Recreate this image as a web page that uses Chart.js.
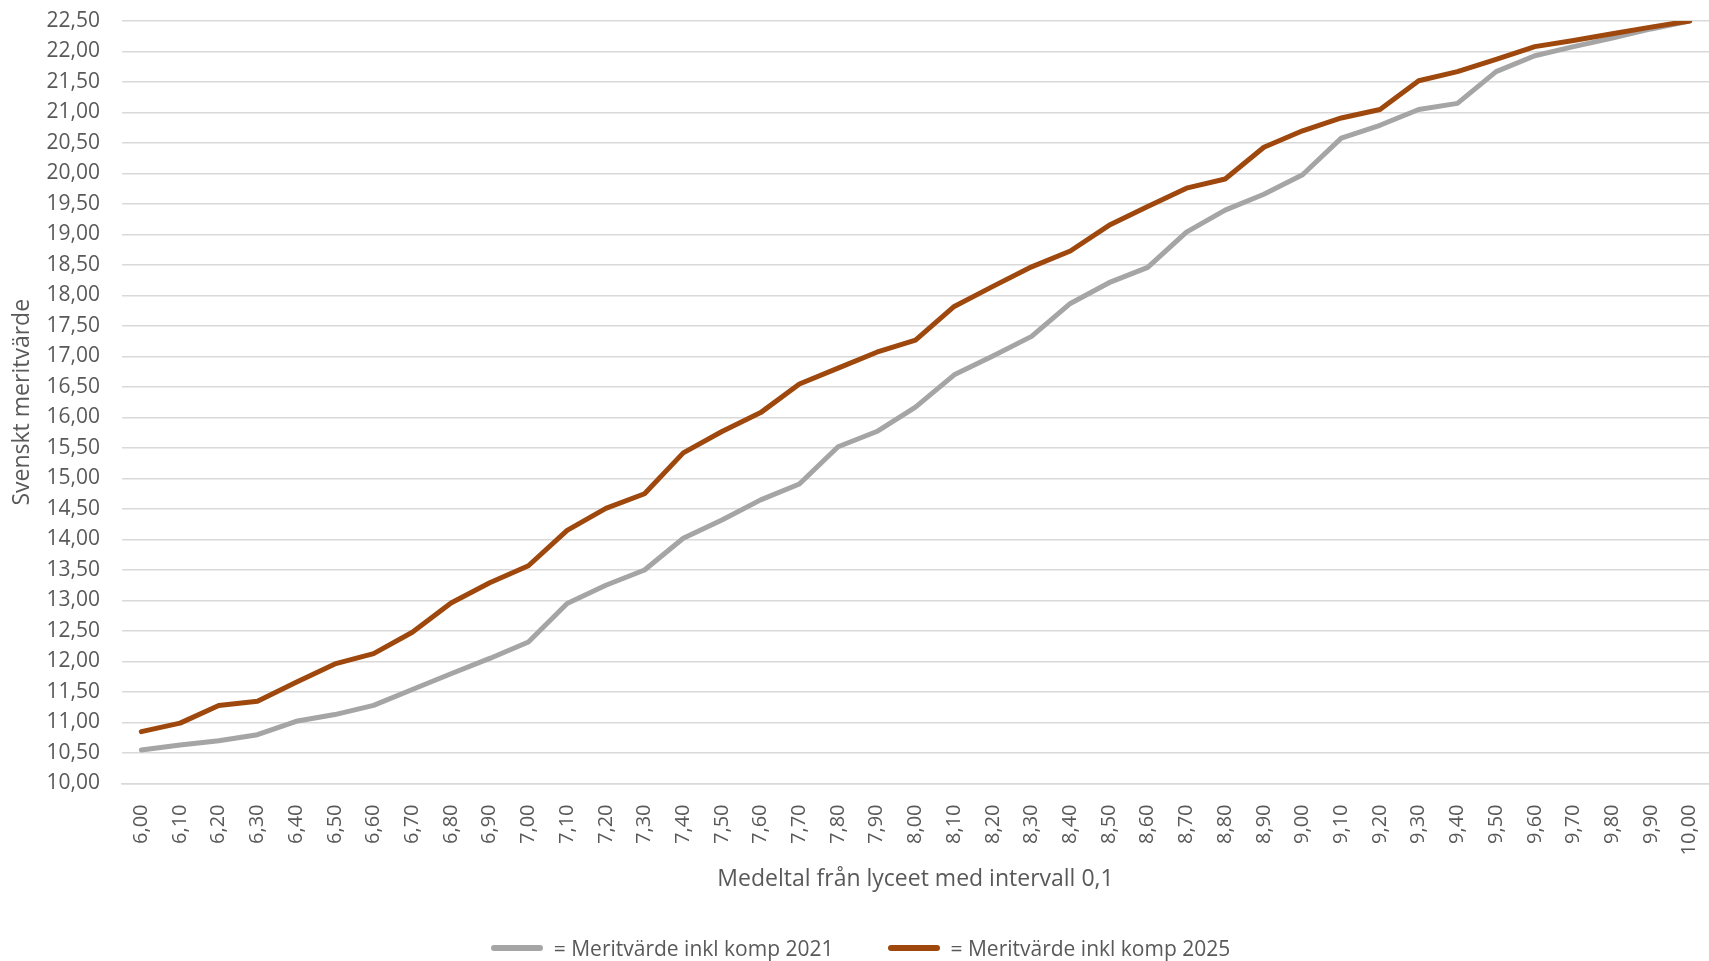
<!DOCTYPE html>
<html lang="sv">
<head>
<meta charset="utf-8">
<title>Meritvärde</title>
<script src="https://cdn.jsdelivr.net/npm/chart.js@4.4.1/dist/chart.umd.min.js"></script>
<style>
    html, body { margin: 0; padding: 0; background: #ffffff; }
    #wrap { width: 1709px; height: 961px; position: relative; }
    #legend {
        position: absolute; left: 12px; right: 0; top: 930px; height: 36px;
        display: flex; justify-content: center; align-items: center; gap: 54px;
        font-family: 'Open Sans', 'Liberation Sans', sans-serif; font-size: 21px; color: #595959;
    }
    #legend .item { display: flex; align-items: center; white-space: nowrap; }
    #legend .swatch { width: 52px; height: 6px; border-radius: 3px; margin-right: 11px; }
</style>
</head>
<body>
<div id="wrap">
    <canvas id="meritChart"></canvas>
    <div id="legend"></div>
</div>
<script>
// Medeltal från lyceet (kategorier på x-axeln)
const medeltal = [
    '6,00', '6,10', '6,20', '6,30', '6,40', '6,50', '6,60', '6,70', '6,80', '6,90',
    '7,00', '7,10', '7,20', '7,30', '7,40', '7,50', '7,60', '7,70', '7,80', '7,90',
    '8,00', '8,10', '8,20', '8,30', '8,40', '8,50', '8,60', '8,70', '8,80', '8,90',
    '9,00', '9,10', '9,20', '9,30', '9,40', '9,50', '9,60', '9,70', '9,80', '9,90',
    '10,00'
];

const merit2021 = [
    10.55, 10.63, 10.70, 10.80, 11.02, 11.13, 11.28, 11.54, 11.80, 12.05,
    12.32, 12.95, 13.25, 13.50, 14.02, 14.32, 14.65, 14.91, 15.52, 15.77,
    16.17, 16.70, 17.01, 17.33, 17.87, 18.21, 18.46, 19.04, 19.40, 19.66,
    19.98, 20.58, 20.79, 21.05, 21.15, 21.67, 21.93, 22.08, 22.22, 22.37,
    22.50
];

const merit2025 = [
    10.85, 10.99, 11.28, 11.35, 11.66, 11.96, 12.13, 12.48, 12.96, 13.29,
    13.57, 14.15, 14.51, 14.75, 15.42, 15.77, 16.08, 16.55, 16.81, 17.07,
    17.27, 17.82, 18.15, 18.47, 18.73, 19.15, 19.46, 19.76, 19.91, 20.43,
    20.70, 20.91, 21.05, 21.52, 21.67, 21.87, 22.08, 22.18, 22.29, 22.40,
    22.50
];

const seriesNames = ['= Meritvärde inkl komp 2021', '= Meritvärde inkl komp 2025'];
const seriesColors = ['#a5a5a5', '#9e480e'];
const yMin = 10;
const yMax = 22.5;
const yStep = 0.5;

const textColor = '#595959';
const gridColor = '#d9d9d9';
const fontFamily = "'Open Sans', 'Liberation Sans', sans-serif";

// Legend as html, built from the datasets (order as in the data)
const htmlLegend = {
    id: 'htmlLegend',
    afterUpdate(chart) {
        const box = document.getElementById('legend');
        box.innerHTML = '';
        chart.data.datasets.forEach(ds => {
            const item = document.createElement('div');
            item.className = 'item';
            const swatch = document.createElement('span');
            swatch.className = 'swatch';
            swatch.style.background = ds.borderColor;
            const text = document.createElement('span');
            text.textContent = ds.label;
            item.appendChild(swatch);
            item.appendChild(text);
            box.appendChild(item);
        });
    }
};

const ctx = document.getElementById('meritChart').getContext('2d');
const meritChart = new Chart(ctx, {
    type: 'line',
    data: {
        labels: medeltal,
        datasets: [
            {
                label: seriesNames[0],
                data: merit2021,
                borderColor: seriesColors[0],
                backgroundColor: seriesColors[0],
                borderWidth: 5,
                pointRadius: 0,
                borderJoinStyle: 'round',
                borderCapStyle: 'round',
                order: 1
            },
            {
                label: seriesNames[1],
                data: merit2025,
                borderColor: seriesColors[1],
                backgroundColor: seriesColors[1],
                borderWidth: 5,
                pointRadius: 0,
                borderJoinStyle: 'round',
                borderCapStyle: 'round',
                order: 0
            }
        ]
    },
    plugins: [htmlLegend],
    options: {
        responsive: true,
        maintainAspectRatio: false,
        animation: false,
        layout: {
            padding: { top: 21, left: 0, right: 0, bottom: 68 }
        },
        plugins: {
            tooltip: { enabled: false },
            legend: { display: false }
        },
        scales: {
            x: {
                offset: true,
                grid: { display: false },
                border: { display: true, color: gridColor, width: 1.5 },
                ticks: {
                    color: textColor,
                    font: { family: fontFamily, size: 20 },
                    minRotation: 90,
                    maxRotation: 90,
                    autoSkip: false,
                    padding: 13
                },
                title: {
                    display: true,
                    text: 'Medeltal från lyceet med intervall 0,1',
                    color: textColor,
                    font: { family: fontFamily, size: 23 },
                    padding: { top: 0, bottom: 0 }
                },
                afterFit: function(scale) {
                    scale.height = 109.5;
                    scale.paddingLeft = 0;
                    scale.paddingRight = 0;
                }
            },
            y: {
                min: yMin,
                max: yMax,
                grid: { color: gridColor, lineWidth: 1.5, drawTicks: false },
                border: { display: false },
                ticks: {
                    stepSize: yStep,
                    color: textColor,
                    font: { family: fontFamily, size: 21 },
                    padding: 22,
                    callback: function(value) {
                        return value.toLocaleString('sv-SE', {
                            minimumFractionDigits: 2,
                            maximumFractionDigits: 2
                        });
                    }
                },
                title: {
                    display: true,
                    text: 'Svenskt meritvärde',
                    color: textColor,
                    font: { family: fontFamily, size: 23 },
                    padding: { top: 9, bottom: 0 }
                },
                afterFit: function(scale) {
                    scale.width = 122;
                    scale.paddingTop = 0;
                    scale.paddingBottom = 0;
                }
            }
        }
    }
});
</script>
</body>
</html>
